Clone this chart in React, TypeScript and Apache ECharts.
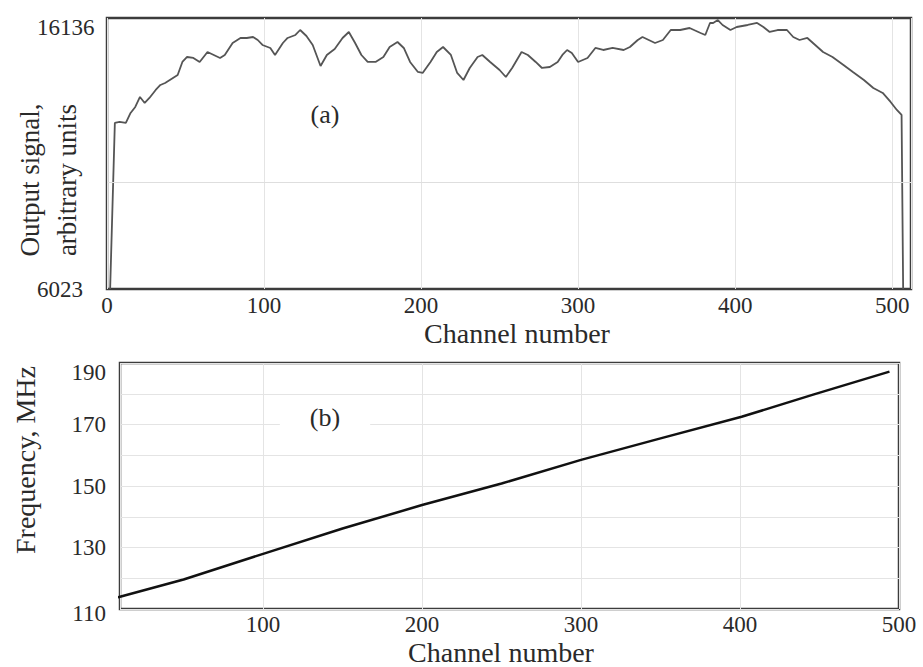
import React, { useEffect, useRef } from "react";
import * as echarts from "echarts";

// (a) Output signal vs channel number
const signalChannels = [
  2, 5, 8, 12, 15, 18, 21, 24, 27, 31, 34, 37, 40, 45, 48, 51, 55, 59, 64, 68,
  72, 75, 80, 85, 89, 93, 96, 99, 104, 107, 112, 115, 120, 123, 127, 131, 136,
  140, 145, 150, 154, 158, 162, 166, 171, 176, 180, 185, 189, 193, 198, 201,
  206, 210, 214, 219, 223, 227, 231, 236, 239, 244, 250, 254, 258, 264, 268,
  273, 277, 282, 287, 290, 293, 296, 300, 306, 311, 316, 322, 329, 333, 338,
  341, 345, 349, 354, 359, 365, 371, 378, 381, 384, 386, 389, 392, 397, 401,
  408, 414, 418, 422, 427, 433, 437, 441, 446, 451, 456, 462, 469, 475, 482,
  488, 494, 499, 503, 506, 507,
];
const signalValues = [
  6023, 12219, 12257, 12219, 12592, 12816, 13189, 12966, 13152, 13450, 13637,
  13711, 13823, 14010, 14495, 14681, 14644, 14495, 14868, 14756, 14644, 14756,
  15203, 15390, 15390, 15427, 15315, 15129, 15017, 14756, 15203, 15390, 15502,
  15688, 15465, 15129, 14346, 14756, 14980, 15390, 15614, 15203, 14756, 14495,
  14495, 14681, 15054, 15241, 15017, 14495, 14122, 14085, 14495, 14868, 15054,
  14756, 14085, 13823, 14271, 14681, 14756, 14495, 14196, 13935, 14271, 14868,
  14756, 14495, 14271, 14308, 14495, 14756, 14942, 14831, 14495, 14644, 15017,
  14942, 15017, 14942, 15054, 15315, 15427, 15315, 15203, 15315, 15688, 15688,
  15763, 15577, 15502, 15950, 15950, 16061, 15875, 15688, 15800, 15875, 15950,
  15800, 15614, 15688, 15688, 15427, 15315, 15390, 15129, 14868, 14681, 14383,
  14122, 13823, 13525, 13339, 13003, 12704, 12518, 6023,
];

// (b) Frequency vs channel number
const freqChannels = [5, 10, 50, 101, 150, 200, 250, 300, 350, 401, 446, 494];
const freqValues = [113.4, 114.0, 119.6, 128.1, 136.2, 143.8, 150.8, 158.5, 165.5, 172.5, 179.7, 187.2];

// axis settings
const signalMin = 6023;
const signalMax = 16136;
const signalGridLine = 10000;
const freqMin = 110;
const freqMax = 190;
const freqLabelStep = 20;

const FONT = "'Liberation Serif', 'Times New Roman', serif";
const TXT = "#2a2a2a";

export default function App() {
  const ref = useRef<HTMLDivElement>(null);

  useEffect(() => {
    if (!ref.current) return;
    const chart = echarts.init(ref.current, null, { renderer: "svg" });

    const tickLabel = {
      fontFamily: FONT,
      fontSize: 23,
      color: TXT,
    };

    const option: any = {
      animation: false,
      backgroundColor: "#ffffff",
      grid: [
        {
          left: 107,
          top: 18,
          right: 12,
          height: 271,
          show: true,
          borderColor: "#3c3c3c",
          borderWidth: 2.5,
          backgroundColor: "transparent",
        },
        {
          left: 120,
          top: 363,
          right: 24,
          height: 246,
          show: true,
          borderColor: "#3c3c3c",
          borderWidth: 2.5,
          backgroundColor: "transparent",
        },
      ],
      xAxis: [
        {
          type: "value",
          gridIndex: 0,
          min: 0,
          max: 512,
          interval: 100,
          axisLine: { show: false },
          axisTick: { show: false },
          axisLabel: { ...tickLabel, margin: 5, showMaxLabel: false },
          splitLine: { show: true, lineStyle: { color: "#e4e4e4", width: 1 } },
        },
        {
          type: "value",
          gridIndex: 1,
          min: 10,
          max: 500,
          axisLine: { show: false },
          axisTick: { show: false },
          axisLabel: { ...tickLabel, margin: 4, showMinLabel: false, showMaxLabel: true },
          splitLine: { show: true, lineStyle: { color: "#e4e4e4", width: 1 } },
        },
      ],
      yAxis: [
        {
          type: "value",
          gridIndex: 0,
          min: signalMin,
          max: signalMax,
          axisLine: { show: false },
          axisTick: { show: false },
          splitLine: { show: false },
          axisLabel: {
            ...tickLabel,
            align: "left",
            margin: 70,
            showMinLabel: true,
            showMaxLabel: true,
            formatter: (v: number) =>
              v === signalMax ? "{mx|" + signalMax + "}" : v === signalMin ? String(signalMin) : "",
            rich: {
              mx: { ...tickLabel, padding: [18, 0, 0, 0] },
            },
          },
        },
        {
          type: "value",
          gridIndex: 1,
          min: freqMin,
          max: freqMax,
          interval: 10,
          axisLine: { show: false },
          axisTick: { show: false },
          splitLine: { show: true, lineStyle: { color: "#e4e4e4", width: 1 } },
          axisLabel: {
            ...tickLabel,
            margin: 14,
            showMinLabel: true,
            showMaxLabel: true,
            formatter: (v: number) => {
              if ((v - freqMin) % freqLabelStep !== 0) return "";
              if (v === freqMax) return "{mx|" + v + "}";
              if (v === freqMin) return "{mn|" + v + "}";
              return String(v);
            },
            rich: {
              mx: { ...tickLabel, padding: [18, 0, 0, 0] },
              mn: { ...tickLabel, padding: [8, 0, 0, 0] },
            },
          },
        },
      ],
      series: [
        {
          type: "line",
          xAxisIndex: 0,
          yAxisIndex: 0,
          data: signalChannels.map((c, i) => [c, signalValues[i]]),
          showSymbol: false,
          symbol: "none",
          lineStyle: { color: "#555555", width: 1.8 },
          markLine: {
            silent: true,
            symbol: "none",
            label: { show: false },
            lineStyle: { color: "#dedede", width: 1, type: "solid" },
            data: [{ yAxis: signalGridLine }],
          },
          z: 3,
        },
        {
          type: "line",
          xAxisIndex: 1,
          yAxisIndex: 1,
          data: freqChannels.map((c, i) => [c, freqValues[i]]),
          showSymbol: false,
          symbol: "none",
          clip: false,
          lineStyle: { color: "#111111", width: 2.5 },
          z: 3,
        },
      ],
      graphic: [
        {
          type: "text",
          x: 325,
          y: 114,
          z: 100,
          style: {
            text: "(a)",
            font: `26px ${FONT}`,
            fill: TXT,
            align: "center",
            verticalAlign: "middle",
            backgroundColor: "#ffffff",
            padding: [4, 16, 4, 16],
          },
        },
        {
          type: "text",
          x: 325,
          y: 417,
          z: 100,
          style: {
            text: "(b)",
            font: `26px ${FONT}`,
            fill: TXT,
            align: "center",
            verticalAlign: "middle",
            backgroundColor: "#ffffff",
            padding: [4, 30, 4, 30],
          },
        },
        {
          type: "text",
          x: 517,
          y: 333,
          style: { text: "Channel number", font: `28px ${FONT}`, fill: TXT, align: "center", verticalAlign: "middle" },
        },
        {
          type: "text",
          x: 501,
          y: 652,
          style: { text: "Channel number", font: `28px ${FONT}`, fill: TXT, align: "center", verticalAlign: "middle" },
        },
        {
          type: "text",
          x: 48,
          y: 180,
          rotation: Math.PI / 2,
          style: {
            text: "Output signal,\narbitrary units",
            font: `27px ${FONT}`,
            lineHeight: 37,
            fill: TXT,
            align: "center",
            verticalAlign: "middle",
          },
        },
        {
          type: "text",
          x: 25,
          y: 460,
          rotation: Math.PI / 2,
          style: { text: "Frequency, MHz", font: `28px ${FONT}`, fill: TXT, align: "center", verticalAlign: "middle" },
        },
      ],
    };

    chart.setOption(option);
    return () => chart.dispose();
  }, []);

  return (
    <div
      ref={ref}
      style={{ position: "fixed", left: 0, top: 0, width: 923, height: 667, background: "#fff" }}
    />
  );
}
